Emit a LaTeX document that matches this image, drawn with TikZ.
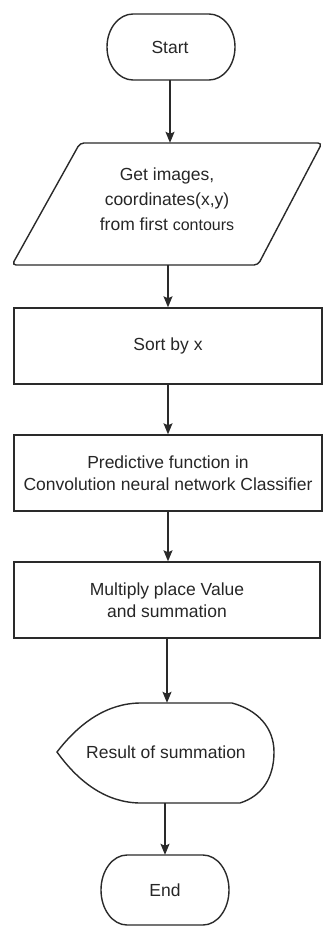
\documentclass[tikz,border=0pt]{standalone}
\usepackage{fontspec}
\setmainfont{Liberation Sans}
\usetikzlibrary{arrows.meta}
\definecolor{ink}{HTML}{2A2A2A}
\definecolor{txt}{HTML}{262626}
\tikzset{
  x=1pt, y=-1pt,
  shp/.style={draw=ink, line width=1.4pt},
  box/.style={shp, rectangle, minimum height=76pt, inner sep=0pt, text=txt, align=center, font=\fontsize{17.5}{22}\selectfont},
  holder/.style={draw=none, rectangle, inner sep=0pt},
  lbl/.style={text=txt, align=center, inner sep=0pt, font=\fontsize{17.5}{22}\selectfont},
  arr/.style={draw=ink, line width=1.2pt, -{Stealth[length=11pt,width=9pt,inset=2pt]}}
}
\begin{document}
\begin{tikzpicture}
\useasboundingbox (0,0) rectangle (324,928);
% Start terminal
\draw[shp] (133,14) -- (209,14) arc[start angle=-90,end angle=90,x radius=26,y radius=33]
  -- (133,80) arc[start angle=90,end angle=270,x radius=26,y radius=33] -- cycle;
\node[holder, minimum width=128pt, minimum height=66pt] (start) at (170,47) {};
\node[lbl] (starttxt) at (170,47) {Start};
% Parallelogram
\draw[shp, rounded corners=4pt] (80,143) -- (322,143) -- (258,265) -- (12,265) -- cycle;
\node[holder, minimum width=180pt, minimum height=122pt] (para) at (169,204) {};
\node[lbl, font=\fontsize{17.5}{25}\selectfont] (paratxt) at (167,199)
  {Get images,\\coordinates(x,y)\\from first {\fontsize{16}{25}\selectfont contours}};
% Rectangles
\node[box, minimum width=308pt] (sort) at (168,346) {Sort by x};
\node[box, minimum width=308pt] (pred) at (168,473) {Predictive function in\\Convolution neural network Classifier};
\node[box, minimum width=306pt] (mult) at (167,600) {Multiply place Value\\and summation};
% Display shape
\draw[shp] (57,752) .. controls (80,722) and (108,703) .. (141,703) -- (232,703)
  .. controls (258,710) and (274,728) .. (274,752)
  .. controls (274,778) and (262,796) .. (240,803) -- (141,803)
  .. controls (108,803) and (80,784) .. (57,752) -- cycle;
\node[holder, minimum width=120pt, minimum height=100pt] (res) at (166,753) {};
\node[lbl] (restxt) at (166,752) {Result of summation};
% End terminal
\draw[shp] (127,855) -- (203,855) arc[start angle=-90,end angle=90,x radius=26,y radius=35]
  -- (127,925) arc[start angle=90,end angle=270,x radius=26,y radius=35] -- cycle;
\node[holder, minimum width=128pt, minimum height=70pt] (end) at (165,890) {};
\node[lbl] (endtxt) at (165,890) {End};
% Connectors
\draw[arr] (start.south) -- (start.south |- para.north);
\draw[arr] (sort.north |- para.south) -- (sort.north);
\draw[arr] (sort.south) -- (sort.south |- pred.north);
\draw[arr] (pred.south) -- (pred.south |- mult.north);
\draw[arr] (mult.south) -- (mult.south |- res.north);
\draw[arr] (end.north |- res.south) -- (end.north);
\end{tikzpicture}
\end{document}
